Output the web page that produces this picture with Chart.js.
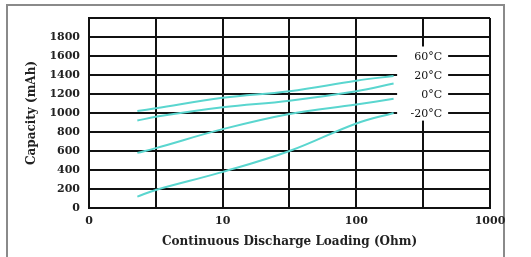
<!DOCTYPE html>
<html>
<head>
<meta charset="utf-8">
<script src="https://cdn.jsdelivr.net/npm/chart.js@4"></script>
<style>
    body { margin: 0; background: #fff; }
    #wrap { position: relative; width: 531px; height: 257px; }
</style>
</head>
<body>
<div id="wrap"><canvas id="capacity-chart" width="531" height="257"></canvas></div>
<script>
// Load in ohms (x) and capacity in mAh (y)
const loads = [2.3, 3.16, 10, 31.6, 100, 190];
const cap60 = [1020, 1050, 1160, 1230, 1340, 1390];
const cap20 = [920, 960, 1060, 1130, 1230, 1310];
const cap0 = [580, 630, 830, 990, 1090, 1150];
const capMinus20 = [120, 190, 380, 600, 890, 1000];

const seriesLabels = ['60°C', '20°C', '0°C', '-20°C'];
const labelLevels = [1600, 1400, 1200, 1000];

const xTickValues = [1, 3.16, 10, 31.6, 100, 316, 1000];
const xTickLabels = ['0', '', '10', '', '100', '', '1000'];

const serif = "'DejaVu Serif', serif";
const lineColor = '#5ad6cf';

function toPoints(values) {
    return values.map((v, i) => ({ x: loads[i], y: v }));
}

// White box with the temperature labels sitting on the grid
const tempLabels = {
    id: 'tempLabels',
    beforeDraw(chart) {
        const ctx = chart.ctx;
        ctx.save();
        ctx.fillStyle = '#fff';
        ctx.fillRect(0, 0, chart.width, chart.height);
        ctx.strokeStyle = '#8a8a8a';
        ctx.lineWidth = 2;
        ctx.strokeRect(7, 5, 497, 300);
        ctx.restore();
    },
    afterDraw(chart) {
        const ctx = chart.ctx;
        const xs = chart.scales.x;
        const ys = chart.scales.y;
        const cx = xs.getPixelForValue(316);
        ctx.save();
        ctx.fillStyle = '#fff';
        const top = ys.getPixelForValue(1700);
        const bottom = ys.getPixelForValue(920);
        ctx.fillRect(cx - 26, top, 51, bottom - top);
        ctx.fillStyle = '#111';
        ctx.font = "normal 11px " + serif;
        ctx.textAlign = 'right';
        ctx.textBaseline = 'middle';
        seriesLabels.forEach((t, i) => {
            ctx.fillText(t, cx + 19, ys.getPixelForValue(labelLevels[i]) + 1);
        });
        ctx.restore();
    }
};

const ds = (label, values) => ({
    label: label,
    data: toPoints(values),
    borderColor: lineColor,
    borderWidth: 2,
    pointRadius: 0,
    tension: 0.4,
    fill: false
});

new Chart(document.getElementById('capacity-chart'), {
    type: 'line',
    data: {
        datasets: [
            ds('60°C', cap60),
            ds('20°C', cap20),
            ds('0°C', cap0),
            ds('-20°C', capMinus20)
        ]
    },
    options: {
        responsive: false,
        animation: false,
        layout: { padding: { top: 18, right: 41, left: 0, bottom: 0 } },
        plugins: {
            legend: { display: false },
            tooltip: { enabled: false }
        },
        scales: {
            x: {
                type: 'logarithmic',
                min: 1,
                max: 1000,
                afterBuildTicks: scale => {
                    scale.ticks = xTickValues.map(v => ({ value: v }));
                },
                afterFit: scale => { scale.height = 49; },
                border: { color: '#111', width: 2 },
                grid: { color: '#111', lineWidth: 2, drawTicks: false },
                ticks: {
                    autoSkip: false,
                    maxRotation: 0,
                    padding: 7,
                    color: '#222',
                    font: { family: serif, size: 11, weight: 'bold' },
                    callback: (value, index) => xTickLabels[index]
                },
                title: {
                    display: true,
                    text: 'Continuous Discharge Loading (Ohm)',
                    color: '#222',
                    font: { family: serif, size: 12, weight: 'bold' },
                    padding: { top: 4, bottom: 8 }
                }
            },
            y: {
                min: 0,
                max: 2000,
                afterFit: scale => { scale.width = 89; },
                border: { color: '#111', width: 2 },
                grid: { color: '#111', lineWidth: 2, drawTicks: false },
                ticks: {
                    stepSize: 200,
                    padding: 9,
                    color: '#222',
                    font: { family: serif, size: 11, weight: 'bold' },
                    callback: value => value === 2000 ? '' : value
                },
                title: {
                    display: true,
                    text: 'Capacity (mAh)',
                    color: '#222',
                    font: { family: serif, size: 12, weight: 'bold' },
                    padding: { top: 25, bottom: 0 }
                }
            }
        }
    },
    plugins: [tempLabels]
});
</script>
</body>
</html>
